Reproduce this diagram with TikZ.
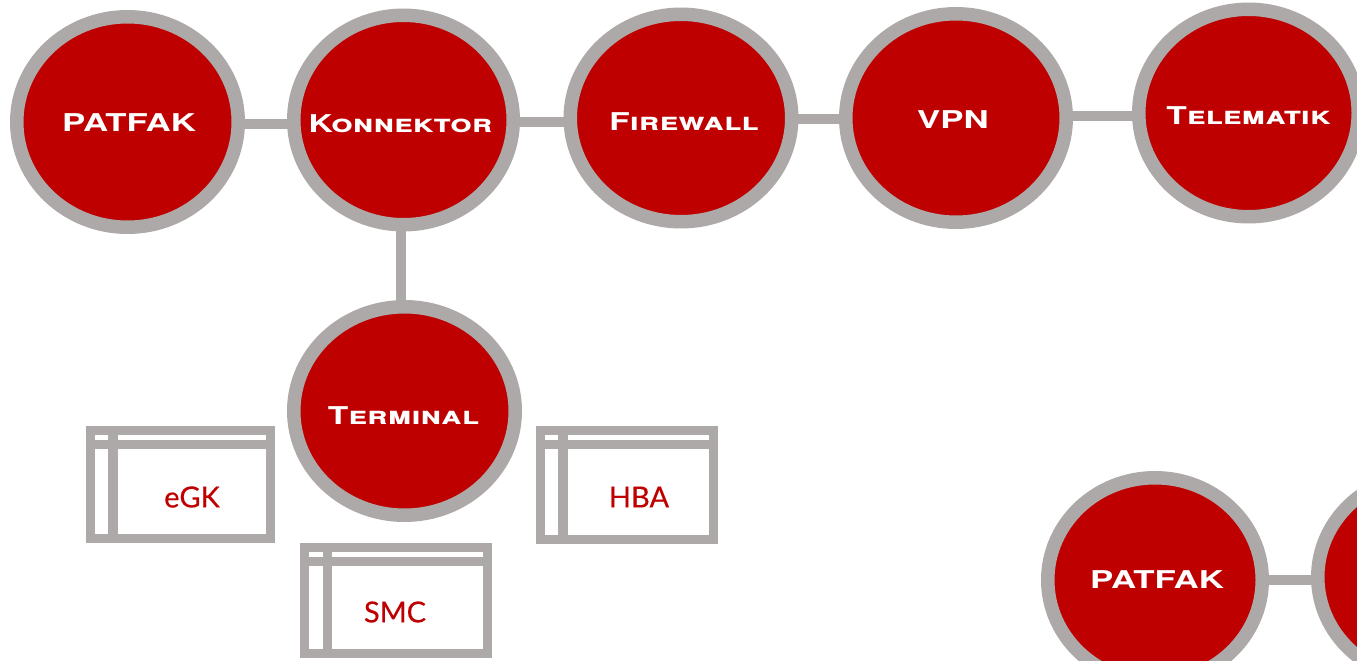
\documentclass[tikz,border=0pt]{standalone}
\usepackage{fontspec}
\usetikzlibrary{shapes.geometric}
\newfontfamily\capfont[FakeStretch=1.42,Letters=SmallCaps,BoldFont={TeX Gyre Heros Bold}]{TeX Gyre Heros}
\newfontfamily\smallcapfont[FakeStretch=1.37,Letters=SmallCaps,BoldFont={TeX Gyre Heros Bold}]{TeX Gyre Heros}
\newfontfamily\cardfont[FakeBold=0.35]{Lato}
\definecolor{discred}{HTML}{BE0000}
\definecolor{ringgray}{HTML}{ADA9A8}
\tikzset{
  x=1pt,y=-1pt,
  disc/.style={ellipse,draw=ringgray,fill=discred,line width=13.5pt,inner sep=0pt,minimum width=#1},
  disc/.default=221pt,
  disclabel/.style={text=white,font=\capfont\bfseries\fontsize{24.5}{24.5}\selectfont,inner sep=0pt},
  sclabel/.style={text=white,font=\smallcapfont\bfseries\fontsize{24.5}{24.5}\selectfont,inner sep=0pt},
  cardbox/.style={rectangle,draw=ringgray,line width=9.3pt,inner sep=0pt},
  cardline/.style={draw=ringgray,line width=9.3pt},
  cardlabel/.style={text=discred,font=\cardfont\fontsize{29}{29}\selectfont,inner sep=0pt},
  link/.style={draw=ringgray,line width=10pt},
}
\begin{document}
\begin{tikzpicture}
\useasboundingbox (0,0) rectangle (1357,661);
\node[disc=221.5pt,minimum height=210.5pt] (patfak) at (127.5,122) {};
\node[disc=219.5pt,minimum height=209.5pt] (konn) at (403.5,120) {};
\node[disc=221.5pt,minimum height=207.5pt] (fire) at (681,118) {};
\node[disc=220.5pt,minimum height=208.5pt] (vpn) at (956,118) {};
\node[disc=219.5pt,minimum height=207.5pt] (tele) at (1248.5,113) {};
\node[disc=221.5pt,minimum height=208.5pt] (term) at (404.5,411) {};
\node[disc=214.5pt,minimum height=204.5pt] (patfakb) at (1155,580) {};
\node[disc=216.5pt,minimum height=204.5pt] (next) at (1426,577) {};
\draw[link] ([xshift=-4pt]patfak.east |- 0,124) -- ([xshift=4pt]konn.west |- 0,124);
\draw[link] ([xshift=-4pt]konn.east |- 0,122) -- ([xshift=4pt]fire.west |- 0,122);
\draw[link] ([xshift=-4pt]fire.east |- 0,119) -- ([xshift=4pt]vpn.west |- 0,119);
\draw[link] ([xshift=-4pt]vpn.east |- 0,116) -- ([xshift=4pt]tele.west |- 0,116);
\draw[link] ([yshift=4pt]401,0 |- konn.south) -- ([yshift=-4pt]401,0 |- term.north);
\draw[link] ([xshift=-4pt]patfakb.east |- 0,580) -- ([xshift=4pt]next.west |- 0,580);
\node[disclabel] (lpatfak) at (129,123) {PATFAK};
\node[sclabel] (lkonn) at (400.5,124) {Konnektor};
\node[sclabel] (lfire) at (684,122) {Firewall};
\node[disclabel] (lvpn) at (953,119.5) {VPN};
\node[sclabel] (ltele) at (1248.5,116) {Telematik};
\node[sclabel] (lterm) at (403.5,416) {Terminal};
\node[disclabel] (lpatfakb) at (1157,580) {PATFAK};
% eGK
\node[cardbox,minimum width=179.7pt,minimum height=107.7pt] (egk) at (180.5,484.5) {};
\draw[cardline] (egk.west |- 0,444.5) -- (egk.east |- 0,444.5);
\draw[cardline] (113,0 |- egk.north) -- (113,0 |- egk.south);
\node[cardlabel] (legk) at (192,497) {eGK};
% HBA
\node[cardbox,minimum width=172.7pt,minimum height=108.7pt] (hba) at (627,485) {};
\draw[cardline] (hba.west |- 0,444.5) -- (hba.east |- 0,444.5);
\draw[cardline] (563,0 |- hba.north) -- (563,0 |- hba.south);
\node[cardlabel] (lhba) at (639,497) {HBA};
% SMC
\node[cardbox,minimum width=182.7pt,minimum height=105.7pt] (smc) at (396,600.5) {};
\draw[cardline] (smc.west |- 0,561.5) -- (smc.east |- 0,561.5);
\draw[cardline] (327.5,0 |- smc.north) -- (327.5,0 |- smc.south);
\node[cardlabel] (lsmc) at (395,612) {SMC};
\end{tikzpicture}
\end{document}
